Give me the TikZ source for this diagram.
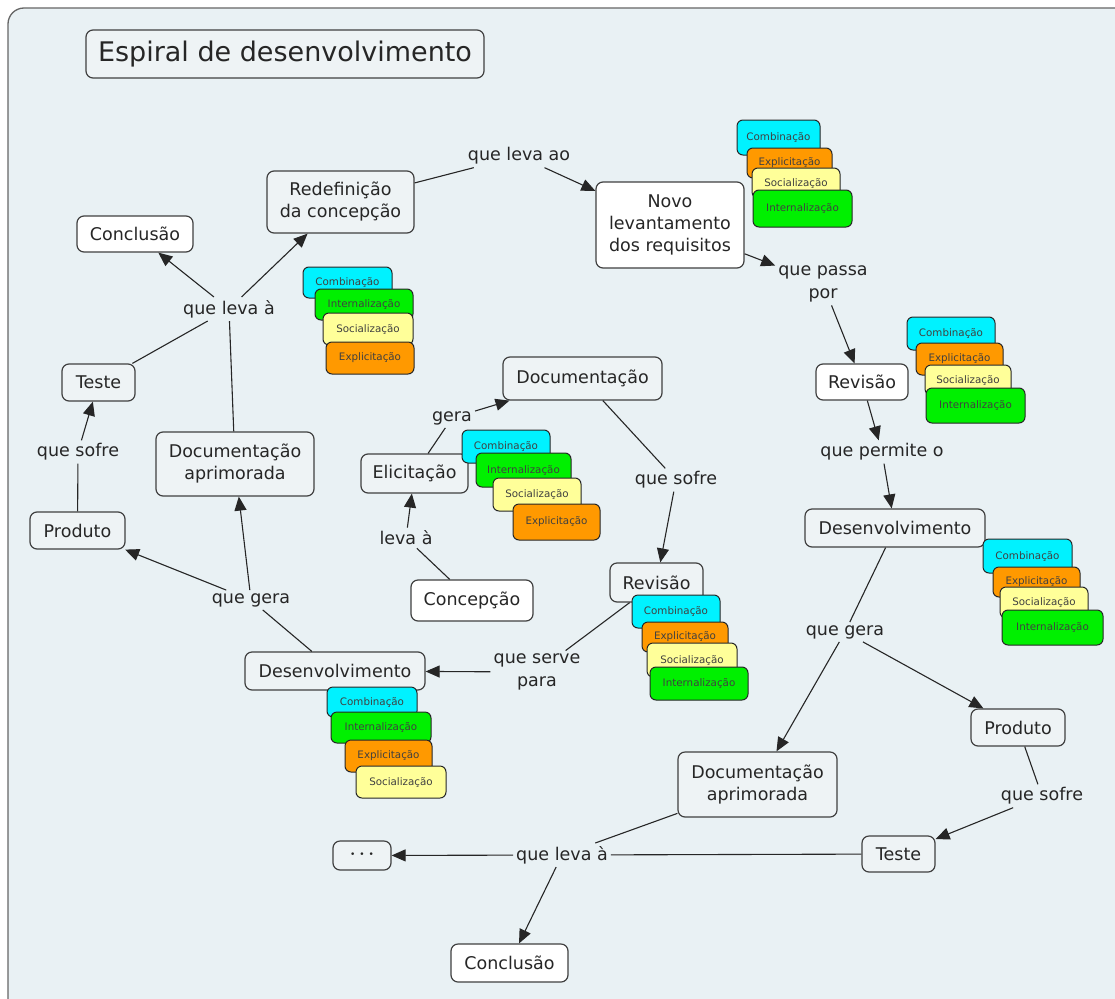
\documentclass[tikz,border=0pt]{standalone}
\usepackage{fontspec}
\setmainfont{DejaVu Sans}
\usetikzlibrary{arrows.meta}

\definecolor{panel}{HTML}{E9F1F4}
\definecolor{cfill}{HTML}{EEF3F5}
\definecolor{edge}{HTML}{404040}
\definecolor{ink}{HTML}{262626}
\definecolor{kcyan}{HTML}{00F2FF}
\definecolor{korange}{HTML}{FF9900}
\definecolor{kyellow}{HTML}{FFFF99}
\definecolor{kgreen}{HTML}{00F000}

% concept box given by its corners: style, x1, y1, x2, y2, name, text
\newcommand\cbox[7]{%
  \node[concept,#1,minimum width={(#4-#2)*1pt},minimum height={(#5-#3)*1pt}]
    (#6) at ({(#2+#4)/2},{(#3+#5)/2}) {#7};}
% small knowledge tag: colour, x1, y1, x2, y2, name, text
\newcommand\ktag[7]{%
  \node[ktagbox,fill=#1,minimum width={(#4-#2)*1pt},minimum height={(#5-#3)*1pt}]
    (#6) at ({(#2+#4)/2},{(#3+#5)/2}) {#7};}

\begin{document}
\begin{tikzpicture}[x=1pt,y=-1pt,
  concept/.style={draw=edge,line width=1.2pt,rounded corners=7pt,fill=cfill,
    text=ink,align=center,inner sep=0pt,font=\fontsize{17.5}{22}\selectfont},
  plain/.style={fill=cfill},
  white/.style={fill=white},
  link/.style={text=ink,align=center,inner sep=3pt,font=\fontsize{17.5}{23}\selectfont},
  ktagbox/.style={draw=black!85,line width=1pt,rounded corners=6pt,inner sep=0pt,
    text=black!75,font=\fontsize{10.3}{11}\selectfont},
  conn/.style={draw=ink,line width=1.1pt},
  arr/.style={conn,-{Triangle[length=14pt,width=12pt]}}]

\useasboundingbox (0,0) rectangle (1115,998);
\fill[white] (0,0) rectangle (1115,998);
\draw[draw=edge!80,fill=panel,line width=1.3pt,rounded corners=16pt]
  (8,8) rectangle (1140,1020);

% title
\node[concept,fill=cfill,minimum width=398pt,minimum height=48pt,
  font=\fontsize{27}{31}\selectfont] (title) at (285,54) {Espiral de desenvolvimento};

% concepts
\cbox{plain}{267}{171}{414}{233}{redef}{Redefinição\\da concepção}
\cbox{white}{77}{216}{193}{252}{conclT}{Conclusão}
\cbox{plain}{62}{364}{135}{401}{testeL}{Teste}
\cbox{plain}{30}{512}{125}{549}{prodL}{Produto}
\cbox{plain}{156}{432}{314}{496}{docapL}{Documentação\\aprimorada}
\cbox{plain}{245}{652}{425}{690}{desL}{Desenvolvimento}
\cbox{plain}{503}{357}{662}{400}{docM}{Documentação}
\cbox{plain}{361}{454}{468}{493}{elic}{Elicitação}
\cbox{white}{411}{580}{533}{621}{concep}{Concepção}
\cbox{plain}{610}{563}{703}{602}{revM}{Revisão}
\cbox{white}{596}{182}{744}{268}{novo}{Novo\\levantamento\\dos requisitos}
\cbox{white}{816}{364}{908}{400}{revR}{Revisão}
\cbox{plain}{805}{509}{985}{547}{desR}{Desenvolvimento}
\cbox{plain}{971}{709}{1065}{746}{prodR}{Produto}
\cbox{plain}{678}{752}{837}{817}{docapR}{Documentação\\aprimorada}
\cbox{plain}{862}{836}{935}{872}{testeR}{Teste}
\cbox{plain}{333}{841}{391}{870}{dots}{\fontsize{9}{9}\selectfont •\hspace{4pt}•\hspace{4pt}•}
\cbox{white}{451}{944}{568}{982}{conclB}{Conclusão}

% linking phrases
\node[link] (lkT) at (229,309) {que leva à};
\node[link] (lsL) at (78,452) {que sofre};
\node[link] (lgL) at (251,600) {que gera};
\node[link] (lao) at (519,156) {que leva ao};
\node[link] (lgera) at (452,418) {gera};
\node[link] (llev) at (406,538) {leva à};
\node[link] (lsM) at (676,480) {que sofre};
\node[link] (lserve) at (537,672) {que serve\\para};
\node[link] (lpassa) at (823,284) {que passa\\por};
\node[link] (lperm) at (882,452) {que permite o};
\node[link] (lgR) at (845,632) {que gera};
\node[link] (lsR) at (1042,796) {que sofre};
\node[link] (lB) at (562,855) {que leva à};

% connectors
\draw[conn] (redef) -- (lao);
\draw[arr] (lao) -- (novo);
\draw[arr] (novo) -- (lpassa);
\draw[arr] (lpassa) -- (revR);
\draw[arr] (revR) -- (lperm);
\draw[arr] (lperm) -- (desR);
\draw[conn] (desR) -- (lgR);
\draw[arr] (lgR) -- (docapR);
\draw[arr] (lgR) -- (prodR);
\draw[conn] (prodR) -- (lsR);
\draw[arr] (lsR) -- (testeR);
\draw[conn] (testeR) -- (lB);
\draw[conn] (docapR) -- (lB);
\draw[arr] (lB) -- (dots);
\draw[arr] (lB) -- (conclB);

\draw[conn] (docM) -- (lsM);
\draw[arr] (lsM) -- (revM);
\draw[conn] (revM) -- (lserve);
\draw[arr] (lserve) -- (desL);
\draw[conn] (desL) -- (lgL);
\draw[arr] (lgL) -- (prodL);
\draw[arr] (lgL) -- (docapL);
\draw[conn] (docapL) -- (lkT);
\draw[conn] (prodL) -- (lsL);
\draw[arr] (lsL) -- (testeL);
\draw[conn] (testeL) -- (lkT);
\draw[arr] (lkT) -- (conclT);
\draw[arr] (lkT) -- (redef);
\draw[conn] (concep) -- (llev);
\draw[arr] (llev) -- (elic);
\draw[conn] (elic) -- (lgera);
\draw[arr] (lgera) -- (docM);

% knowledge tags, each stack drawn back to front
\ktag{kcyan}{303}{267}{392}{298}{a1}{Combinação}
\ktag{kgreen}{315}{289}{413}{320}{a2}{Internalização}
\ktag{kyellow}{323}{313}{413}{345}{a3}{Socialização}
\ktag{korange}{326}{342}{414}{374}{a4}{Explicitação}

\ktag{kcyan}{737}{120}{820}{155}{b1}{Combinação}
\ktag{korange}{747}{148}{832}{178}{b2}{Explicitação}
\ktag{kyellow}{752}{168}{840}{198}{b3}{Socialização}
\ktag{kgreen}{753}{190}{852}{227}{b4}{Internalização}

\ktag{kcyan}{907}{317}{995}{350}{c1}{Combinação}
\ktag{korange}{916}{343}{1003}{375}{c2}{Explicitação}
\ktag{kyellow}{925}{365}{1011}{395}{c3}{Socialização}
\ktag{kgreen}{926}{388}{1025}{423}{c4}{Internalização}

\ktag{kcyan}{462}{430}{550}{463}{d1}{Combinação}
\ktag{kgreen}{476}{453}{571}{487}{d2}{Internalização}
\ktag{kyellow}{493}{478}{581}{511}{d3}{Socialização}
\ktag{korange}{513}{504}{600}{540}{d4}{Explicitação}

\ktag{kcyan}{983}{539}{1072}{573}{e1}{Combinação}
\ktag{korange}{993}{567}{1080}{597}{e2}{Explicitação}
\ktag{kyellow}{1000}{587}{1088}{618}{e3}{Socialização}
\ktag{kgreen}{1002}{610}{1103}{645}{e4}{Internalização}

\ktag{kcyan}{632}{595}{720}{628}{f1}{Combinação}
\ktag{korange}{642}{622}{728}{652}{f2}{Explicitação}
\ktag{kyellow}{647}{643}{737}{677}{f3}{Socialização}
\ktag{kgreen}{650}{667}{748}{700}{f4}{Internalização}

\ktag{kcyan}{327}{687}{417}{717}{g1}{Combinação}
\ktag{kgreen}{331}{712}{431}{743}{g2}{Internalização}
\ktag{korange}{345}{740}{432}{772}{g3}{Explicitação}
\ktag{kyellow}{356}{766}{446}{798}{g4}{Socialização}

\end{tikzpicture}
\end{document}
